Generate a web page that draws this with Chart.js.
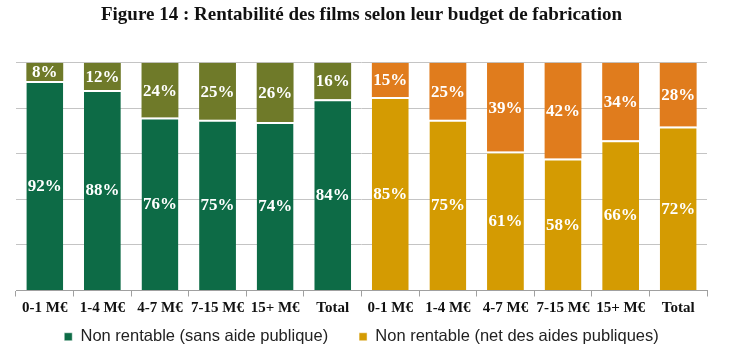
<!DOCTYPE html>
<html>
<head>
<meta charset="utf-8">
<script src="https://cdn.jsdelivr.net/npm/chart.js@4.4.1/dist/chart.umd.min.js"></script>
<style>
  html, body { margin: 0; padding: 0; background: #fff; }
  #wrap { width: 740px; height: 359px; }
</style>
</head>
<body>
<div id="wrap"><canvas id="chart"></canvas></div>
<script>
const categories = ["0-1 M€", "1-4 M€", "4-7 M€", "7-15 M€", "15+ M€", "Total",
                    "0-1 M€", "1-4 M€", "4-7 M€", "7-15 M€", "15+ M€", "Total"];
// non rentable sans aide publique (green) and its complement
const sansAide   = [92, 88, 76, 75, 74, 84, null, null, null, null, null, null];
const sansAideR  = [8, 12, 24, 25, 26, 16, null, null, null, null, null, null];
// non rentable net des aides publiques (gold) and its complement
const netAides   = [null, null, null, null, null, null, 85, 75, 61, 58, 66, 72];
const netAidesR  = [null, null, null, null, null, null, 15, 25, 39, 42, 34, 28];
const yTicks = [0, 20, 40, 60, 80, 100];

const serif = "'Liberation Serif', 'DejaVu Serif', serif";

// white % labels in the middle of each segment
const valueLabels = {
  id: "valueLabels",
  afterDatasetsDraw(chart) {
    const ctx = chart.ctx;
    ctx.save();
    ctx.font = "bold 17px " + serif;
    ctx.fillStyle = "#fff";
    ctx.textAlign = "center";
    ctx.textBaseline = "middle";
    chart.data.datasets.forEach((ds, i) => {
      const meta = chart.getDatasetMeta(i);
      meta.data.forEach((bar, j) => {
        const v = ds.data[j];
        if (v == null) return;
        ctx.fillText(v + "%", bar.x, (bar.y + bar.base) / 2 + 1);
      });
    });
    ctx.restore();
  }
};

const bottomBorder = { top: 2, left: 0, right: 0, bottom: 0 };

new Chart(document.getElementById("chart"), {
  type: "bar",
  data: {
    labels: categories,
    datasets: [
      { label: "Non rentable (sans aide publique)", data: sansAide,
        backgroundColor: "#0d6b46", borderColor: "#fff", borderWidth: bottomBorder, borderSkipped: false },
      { label: "Non rentable (net des aides publiques)", data: netAides,
        backgroundColor: "#d49b02", borderColor: "#fff", borderWidth: bottomBorder, borderSkipped: false },
      { label: "Rentable (sans aide publique)", data: sansAideR,
        backgroundColor: "#6f7a29", borderWidth: 0 },
      { label: "Rentable (net des aides publiques)", data: netAidesR,
        backgroundColor: "#e07c1d", borderWidth: 0 }
    ]
  },
  options: {
    responsive: true,
    maintainAspectRatio: false,
    animation: false,
    layout: { padding: { top: 0, bottom: 4, left: 16, right: 33 } },
    datasets: { bar: { categoryPercentage: 1, barPercentage: 0.64 } },
    scales: {
      x: {
        stacked: true,
        grid: { offset: true, drawOnChartArea: false, drawTicks: true, tickLength: 6, color: "#a0a0a0" },
        border: { color: "#a0a0a0" },
        ticks: { color: "#111", padding: 3, font: { family: serif, size: 15, weight: "bold" }, maxRotation: 0, autoSkip: false }
      },
      y: {
        stacked: true,
        min: 0, max: 100,
        afterBuildTicks: (s) => { s.ticks = yTicks.map(v => ({ value: v })); },
        ticks: { display: false },
        grid: { drawTicks: false, color: "#c4c4c4" },
        border: { display: false }
      }
    },
    plugins: {
      title: {
        display: true,
        text: "Figure 14 : Rentabilité des films selon leur budget de fabrication",
        color: "#111",
        font: { family: serif, size: 19, weight: "bold" },
        padding: { top: 4, bottom: 36 }
      },
      legend: {
        position: "bottom",
        labels: {
          boxWidth: 8, boxHeight: 8, padding: 8, color: "#222",
          font: { family: "'Liberation Sans', Arial, sans-serif", size: 16.5 },
          generateLabels: (chart) => {
            const items = Chart.defaults.plugins.legend.labels.generateLabels(chart)
              .filter(item => item.datasetIndex < 2);
            items[0].text += "     ";
            return items;
          }
        }
      },
      tooltip: { enabled: false }
    }
  },
  plugins: [valueLabels]
});
</script>
</body>
</html>
